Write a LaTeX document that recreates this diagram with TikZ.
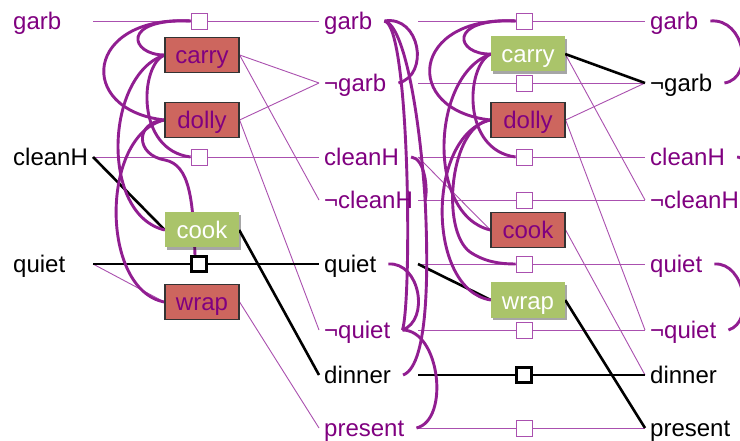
\documentclass[tikz,border=0pt]{standalone}
\usepackage{fontspec}
\setmainfont{Liberation Sans}
\usetikzlibrary{shadows}
\definecolor{txtpurple}{RGB}{128,0,128}
\definecolor{arcpurple}{RGB}{145,30,145}
\definecolor{linkpurple}{RGB}{170,80,175}
\definecolor{actred}{RGB}{205,102,94}
\definecolor{actgreen}{RGB}{170,196,106}
\pgfdeclarelayer{bg}
\pgfsetlayers{bg,main}

\begin{document}
\begin{tikzpicture}[x=1pt,y=-1pt,
  font=\fontsize{24}{28}\selectfont,
  prop/.style={anchor=west, inner xsep=5pt, inner ysep=0pt, text height=21pt, text depth=4pt},
  pp/.style={prop, text=txtpurple},
  pb/.style={prop, text=black},
  act/.style={minimum width=74pt, minimum height=35pt, inner sep=0pt, text height=22pt, text depth=4pt},
  redact/.style={act, fill=actred, draw=black!80, line width=1.2pt, text=txtpurple},
  greenact/.style={act, fill=actgreen, text=white, drop shadow={shadow xshift=2pt, shadow yshift=-2.5pt, opacity=0.35, fill=black}},
  noop/.style={minimum size=16pt, inner sep=0pt, fill=white, draw=linkpurple, line width=0.9pt},
  noopk/.style={minimum size=15pt, inner sep=0pt, fill=white, draw=black, line width=2.4pt},
  link/.style={draw=linkpurple, line width=0.9pt},
  klink/.style={draw=black, line width=2.6pt},
  mutex/.style={draw=arcpurple, line width=2.9pt},
]
\useasboundingbox (0,0) rectangle (740,441);

% ---- level 0 propositions ----
\node[pp] (p1garb)   at (8,21)  {garb};
\node[pb] (p1cleanH) at (8,157) {cleanH};
\node[pb] (p1quiet)  at (8,264) {quiet};
\coordinate (o1garb)   at (93,21);
\coordinate (o1cleanH) at (93,157);
\coordinate (o1quiet)  at (93,264);

% ---- level 1 actions ----
\node[noop]     (n1garb)   at (199,21)  {};
\node[redact]   (carry1)   at (202,55)  {carry};
\node[redact]   (dolly1)   at (202,120) {dolly};
\node[noop]     (n1cleanH) at (199,157) {};
\node[greenact] (cook1)    at (202,230) {cook};
\node[noopk]    (n1quiet)  at (199,264) {};
\node[redact]   (wrap1)    at (202,302) {wrap};

% ---- level 1 propositions ----
\node[pp] (p2garb)    at (319,21)  {garb};
\node[pp] (p2ngarb)   at (319,83)  {¬garb};
\node[pp] (p2cleanH)  at (319,157) {cleanH};
\node[pp] (p2ncleanH) at (319,200) {¬cleanH};
\node[pb] (p2quiet)   at (319,264) {quiet};
\node[pp] (p2nquiet)  at (319,330) {¬quiet};
\node[pb] (p2dinner)  at (319,375) {dinner};
\node[pp] (p2present) at (319,428) {present};
\foreach \n/\y in {garb/21,ngarb/83,cleanH/157,ncleanH/200,quiet/264,nquiet/330,dinner/375,present/428}
  \coordinate (o2\n) at (418,\y);
\foreach \n in {garb,ngarb,cleanH,ncleanH,quiet,nquiet,dinner,present}
  \coordinate (m2\n) at ([xshift=7pt]p2\n.east);

% ---- level 2 actions ----
\node[noop]     (n2garb)    at (524,21)  {};
\node[greenact] (carry2)    at (528,54)  {carry};
\node[noop]     (n2ngarb)   at (524,83)  {};
\node[redact]   (dolly2)    at (528,120) {dolly};
\node[noop]     (n2cleanH)  at (524,157) {};
\node[noop]     (n2ncleanH) at (524,200) {};
\node[redact]   (cook2)     at (528,230) {cook};
\node[noop]     (n2quiet)   at (524,264) {};
\node[greenact] (wrap2)     at (528,300) {wrap};
\node[noop]     (n2nquiet)  at (524,330) {};
\node[noopk]    (n2dinner)  at (524,375) {};
\node[noop]     (n2present) at (524,428) {};

% ---- level 2 propositions ----
\node[pp] (p3garb)    at (645,21)  {garb};
\node[pb] (p3ngarb)   at (645,83)  {¬garb};
\node[pp] (p3cleanH)  at (645,157) {cleanH};
\node[pp] (p3ncleanH) at (645,200) {¬cleanH};
\node[pp] (p3quiet)   at (645,264) {quiet};
\node[pp] (p3nquiet)  at (645,330) {¬quiet};
\node[pb] (p3dinner)  at (645,375) {dinner};
\node[pb] (p3present) at (645,428) {present};
\foreach \n in {garb,ngarb,cleanH,ncleanH,quiet,nquiet}
  \coordinate (m3\n) at ([xshift=7pt]p3\n.east);

\begin{pgfonlayer}{bg}
\fill[white] (0,0) rectangle (740,441);
\clip (0,0) rectangle (740,441);
% level 1 links
\path[link] (o1garb) -- (p2garb.west);
\path[link] (o1cleanH) -- (p2cleanH.west);
\path[link] (o1quiet) -- (wrap1.west);
\path[link] (carry1.east) -- (p2ngarb.west);
\path[link] (carry1.east) -- (p2ncleanH.west);
\path[link] (dolly1.east) -- (p2ngarb.west);
\path[link] (dolly1.east) -- (p2nquiet.west);
\path[link] (wrap1.east) -- (p2present.west);
\path[klink] (o1quiet) -- (p2quiet.west);
\path[klink] (o1cleanH) -- (cook1.west);
\path[klink] (cook1.east) -- (p2dinner.west);

% level 2 links
\foreach \n in {garb,ngarb,cleanH,ncleanH,quiet,nquiet,present}
  \path[link] (o2\n) -- (p3\n.west);
\path[link] (o2cleanH) -- (cook2.west);
\path[link] (carry2.east) -- (p3ncleanH.west);
\path[link] (dolly2.east) -- (p3ngarb.west);
\path[link] (dolly2.east) -- (p3nquiet.west);
\path[link] (cook2.east) -- (p3dinner.west);
\path[klink] (o2dinner) -- (p3dinner.west);
\path[klink] (o2quiet) -- (wrap2.west);
\path[klink] (carry2.east) -- (p3ngarb.west);
\path[klink] (wrap2.east) -- (p3present.west);

% level 1 action mutexes
\path[mutex] (n1garb.west) .. controls (120,18) and (130,55) .. (carry1.west);
\path[mutex] (n1garb.west) .. controls (85,15) and (75,110) .. (dolly1.west);
\path[mutex] (carry1.west) .. controls (140,65) and (135,150) .. (n1cleanH.west);
\path[mutex] (carry1.west) .. controls (105,75) and (100,215) .. (cook1.west);
\path[mutex] (dolly1.west) .. controls (135,122) and (135,155) .. (165,160)
                           .. controls (190,165) and (193,200) .. ([xshift=-4pt]n1quiet.north);
\path[mutex] (dolly1.west) .. controls (100,135) and (100,290) .. (wrap1.west);

% level 1 proposition mutexes
\path[mutex] (m2garb) .. controls (420,15) and (430,75) .. (m2ngarb);
\path[mutex] (m2garb) .. controls (405,25) and (420,120) .. (m2ncleanH);
\path[mutex] (m2garb) .. controls (410,25) and (412,300) .. (m2nquiet);
\path[mutex] (m2cleanH) .. controls (425,158) and (428,190) .. (m2ncleanH);
\path[mutex] (m2ncleanH) .. controls (428,260) and (430,365) .. (m2dinner);
\path[mutex] (m2quiet) .. controls (420,262) and (430,320) .. (m2nquiet);
\path[mutex] (m2nquiet) .. controls (440,330) and (450,420) .. (m2present);

% level 2 action mutexes
\path[mutex] (n2garb.west) .. controls (446,18) and (456,55) .. (carry2.west);
\path[mutex] (n2garb.west) .. controls (411,15) and (401,110) .. (dolly2.west);
\path[mutex] (carry2.west) .. controls (466,65) and (461,150) .. (n2cleanH.west);
\path[mutex] (carry2.west) .. controls (431,75) and (426,215) .. (cook2.west);
\path[mutex] (dolly2.west) .. controls (450,125) and (440,230) .. (470,252)
                           .. controls (485,262) and (500,264) .. (n2quiet.west);
\path[mutex] (dolly2.west) .. controls (426,135) and (426,290) .. (wrap2.west);

% level 2 proposition mutexes
\path[mutex] (m3garb) .. controls (745,18) and (755,78) .. (m3ngarb);
\path[mutex] (m3cleanH) .. controls (750,157) and (760,195) .. (m3ncleanH);
\path[mutex] (m3quiet) .. controls (745,262) and (755,322) .. (m3nquiet);
\end{pgfonlayer}
\end{tikzpicture}
\end{document}
